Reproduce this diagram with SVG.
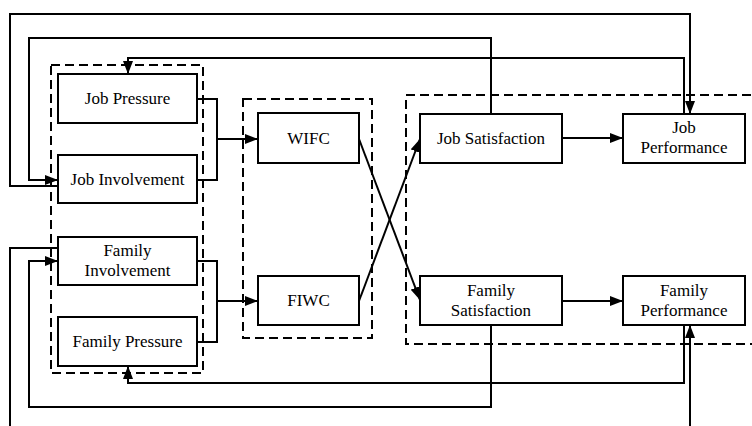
<svg xmlns="http://www.w3.org/2000/svg" width="752" height="426" viewBox="0 0 752 426">
<style>
.box{fill:#fff;stroke:#000;stroke-width:2}
.grp{fill:none;stroke:#000;stroke-width:2;stroke-dasharray:9 5}
.ln{fill:none;stroke:#000;stroke-width:2}
.arr{marker-end:url(#ah)}
</style>
<defs>
<marker id="ah" markerUnits="userSpaceOnUse" markerWidth="14" markerHeight="11" refX="13" refY="5" orient="auto" viewBox="0 0 14 10">
<path d="M0,0 L13,5 L0,10 z" fill="#000"/>
</marker>
</defs>
<rect width="752" height="426" fill="#fff"/>
<g id="groups">
<rect class="grp" x="51" y="65" width="152" height="308"/>
<rect class="grp" x="243" y="99" width="129" height="239"/>
<rect class="grp" x="406" y="95" width="360" height="249"/>
</g>
<g id="connectors">
<path class="ln" d="M197,99 H217 V180 H197"/>
<path class="ln arr" d="M217,139 H258"/>
<path class="ln" d="M197,261 H217 V342 H197"/>
<path class="ln arr" d="M217,301 H258"/>
<path class="ln arr" d="M359,139 L420,300"/>
<path class="ln arr" d="M359,301 L420,139"/>
<path class="ln arr" d="M562,138 H623"/>
<path class="ln arr" d="M562,301 H623"/>
<path class="ln arr" d="M58,186 H10 V14 H690 V114"/>
<path class="ln arr" d="M491,114 V38 H29 V180 H58"/>
<path class="ln arr" d="M684,114 V58 H128 V74"/>
<path class="ln arr" d="M684,325 V383 H128 V366"/>
<path class="ln arr" d="M491,325 V407 H29 V261 H58"/>
<path class="ln" d="M58,248 H10 V426"/>
<path class="ln arr" d="M690,426 V325"/>
</g>
<g font-family="'Liberation Serif', 'Times New Roman', 'DejaVu Serif', serif" font-size="17" text-anchor="middle" fill="#000">
<g id="job-pressure"><rect class="box" x="58" y="74" width="139" height="49"/><text x="127.5" y="104">Job Pressure</text></g>
<g id="job-involvement"><rect class="box" x="58" y="155" width="139" height="48"/><text x="127.5" y="185">Job Involvement</text></g>
<g id="family-involvement"><rect class="box" x="58" y="237" width="139" height="48"/><text x="127.5" y="256">Family</text><text x="127.5" y="276">Involvement</text></g>
<g id="family-pressure"><rect class="box" x="58" y="317" width="139" height="49"/><text x="127.5" y="347">Family Pressure</text></g>
<g id="wifc"><rect class="box" x="258" y="113" width="101" height="50"/><text x="308.5" y="144">WIFC</text></g>
<g id="fiwc"><rect class="box" x="258" y="276" width="101" height="49"/><text x="308.5" y="306">FIWC</text></g>
<g id="job-satisfaction"><rect class="box" x="420" y="114" width="142" height="49"/><text x="491" y="144">Job Satisfaction</text></g>
<g id="job-performance"><rect class="box" x="623" y="114" width="122" height="49"/><text x="684" y="133">Job</text><text x="684" y="153">Performance</text></g>
<g id="family-satisfaction"><rect class="box" x="420" y="276" width="142" height="49"/><text x="491" y="296">Family</text><text x="491" y="316">Satisfaction</text></g>
<g id="family-performance"><rect class="box" x="623" y="276" width="122" height="49"/><text x="684" y="296">Family</text><text x="684" y="316">Performance</text></g>
</g>
</svg>
